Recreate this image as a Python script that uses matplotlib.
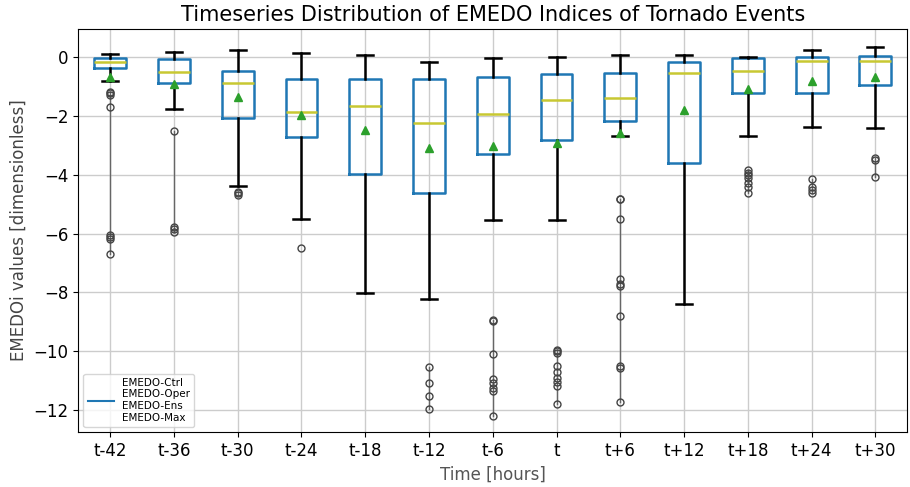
import matplotlib
matplotlib.use("Agg")
import matplotlib.pyplot as plt

# Datos
etiquetas = ["t-42", "t-36", "t-30", "t-24", "t-18", "t-12", "t-6", "t",
             "t+6", "t+12", "t+18", "t+24", "t+30"]
bigote_bajo = [-0.80, -1.78, -4.37, -5.50, -8.02, -8.21, -5.54, -5.54, -2.67, -8.38, -2.67, -2.36, -2.42]
q1 = [-0.38, -0.89, -2.08, -2.73, -3.99, -4.63, -3.29, -2.83, -2.17, -3.59, -1.23, -1.23, -0.94]
mediana = [-0.15, -0.50, -0.88, -1.85, -1.66, -2.23, -1.94, -1.45, -1.38, -0.55, -0.46, -0.13, -0.12]
q3 = [-0.03, -0.07, -0.46, -0.73, -0.76, -0.74, -0.68, -0.59, -0.55, -0.18, -0.03, 0.00, 0.04]
bigote_alto = [0.11, 0.19, 0.25, 0.14, 0.07, -0.15, -0.03, 0.02, 0.09, 0.08, 0.02, 0.25, 0.34]
media = [-0.68, -0.92, -1.34, -1.97, -2.49, -3.09, -3.02, -2.91, -2.57, -1.80, -1.09, -0.80, -0.68]
atipicos = [
    [-1.17, -1.23, -1.28, -1.70, -6.05, -6.11, -6.19, -6.68],
    [-2.50, -5.77, -5.86, -5.94],
    [-4.58, -4.63, -4.69],
    [-6.50],
    [],
    [-10.54, -11.07, -11.53, -11.96],
    [-8.93, -8.98, -10.09, -10.96, -11.10, -11.24, -11.36, -12.22],
    [-9.95, -10.00, -10.06, -10.52, -10.71, -10.90, -11.05, -11.20, -11.79],
    [-4.81, -4.84, -5.49, -7.53, -7.72, -7.79, -8.81, -10.49, -10.57, -11.73],
    [],
    [-3.84, -3.93, -4.01, -4.12, -4.27, -4.41, -4.63],
    [-4.16, -4.41, -4.52, -4.63],
    [-3.42, -3.50, -4.07],
]

# estatisticas para bxp
stats = []
for i in range(len(etiquetas)):
    stats.append({
        "label": etiquetas[i],
        "whislo": bigote_bajo[i],
        "q1": q1[i],
        "med": mediana[i],
        "q3": q3[i],
        "whishi": bigote_alto[i],
        "mean": media[i],
        "fliers": atipicos[i],
    })

fig = plt.figure(figsize=(9.1, 4.87), dpi=100)
ax = fig.add_axes([0.086, 0.113, 0.911, 0.827])

ax.bxp(stats, showmeans=True, widths=0.5,
       boxprops=dict(color="#1f77b4", linewidth=1.8),
       medianprops=dict(color="#c8c832", linewidth=1.8),
       whiskerprops=dict(color="black", linewidth=1.8),
       capprops=dict(color="black", linewidth=1.8),
       meanprops=dict(marker="^", markerfacecolor="#2ca02c", markeredgecolor="#2ca02c", markersize=6),
       flierprops=dict(marker="o", markerfacecolor="none", markeredgecolor="#444444",
                       color="#666666", linestyle="-", linewidth=1, markersize=5))

ax.set_ylim(-12.75, 0.95)
ax.grid(True, color="#cccccc", linewidth=1)
ax.set_axisbelow(True)
ax.tick_params(labelsize=12)

ax.set_title("Timeseries Distribution of EMEDO Indices of Tornado Events", fontsize=15)
ax.set_xlabel("Time [hours]", fontsize=12, color="#555555")
ax.set_ylabel("EMEDOi values [dimensionless]", fontsize=12, color="#444444")

# legenda com uma linha so
ax.plot([], [], color="#1f77b4", linewidth=1.5,
        label="EMEDO-Ctrl\nEMEDO-Oper\nEMEDO-Ens\nEMEDO-Max")
ax.legend(loc="lower left", fontsize=7.5, handlelength=2.5)

fig.savefig("out.png", dpi=100)
